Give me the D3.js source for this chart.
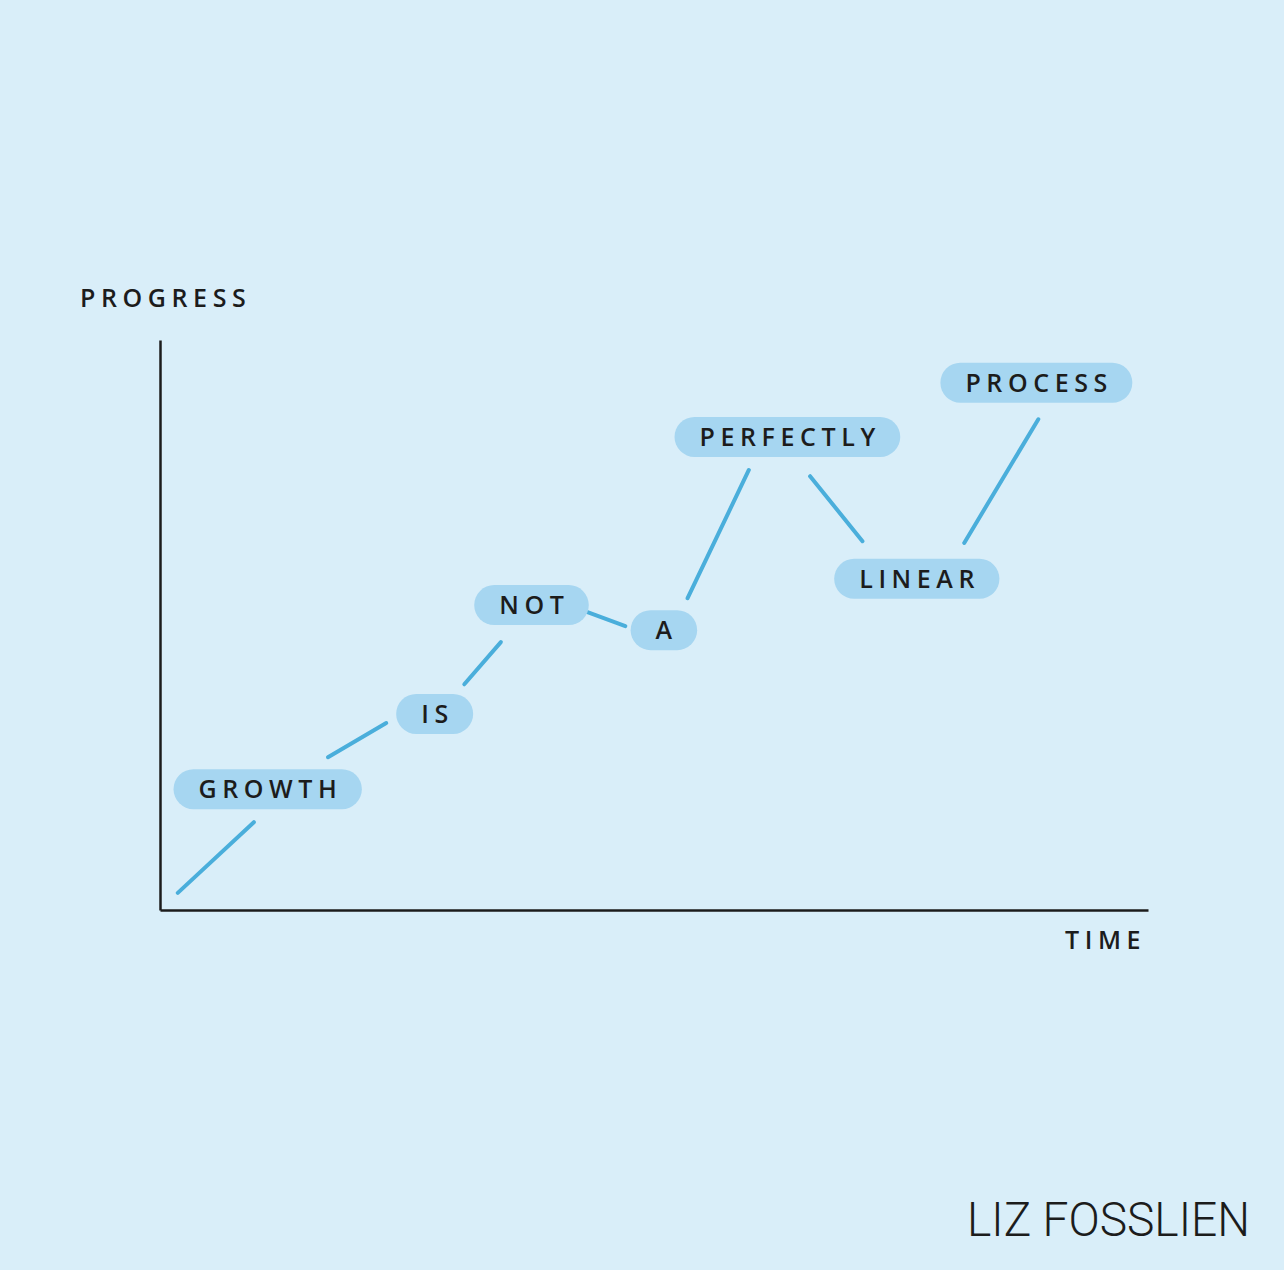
<!DOCTYPE html>
<html><head><meta charset="utf-8">
<script src="https://cdn.jsdelivr.net/npm/d3@7"></script>
<style>
html,body{margin:0;padding:0;background:#d9eef9;}
svg{display:block;}
</style></head>
<body>
<script>
// ---- data ----
const words = ["GROWTH","IS","NOT","A","PERFECTLY","LINEAR","PROCESS"];
const wordTime = [10.9, 27.8, 37.6, 51.0, 63.5, 76.6, 88.7];
const wordProgress = [21.2, 34.4, 53.5, 49.1, 83.0, 58.1, 92.5];
// connector segments: [t1, p1, t2, p2]
const segStartTime = [1.8, 17.0, 30.8, 43.2, 53.4, 65.8, 81.4];
const segStartProg = [3.0, 26.8, 39.6, 52.3, 54.7, 76.1, 64.4];
const segEndTime   = [9.5, 22.9, 34.5, 47.1, 59.6, 71.1, 88.9];
const segEndProg   = [15.4, 32.8, 47.0, 49.8, 77.2, 64.7, 86.1];
const yLabel = "PROGRESS";
const xLabel = "TIME";
const credit = "LIZ FOSSLIEN";

// ---- layout ----
const W = 1284, H = 1270;
const svg = d3.select("body").append("svg").attr("width", W).attr("height", H);
svg.append("rect").attr("width", W).attr("height", H).attr("fill", "#d9eef9");

const x = d3.scaleLinear().domain([0, 100]).range([160, 1148]);
const y = d3.scaleLinear().domain([0, 100]).range([910, 340]);

const font = "'Open Sans', 'DejaVu Sans', sans-serif";
const ink = "#1c1c1c";
const fs = 25, ls = 5.6, fw = 600;

// axes (no ticks)
const xAxis = d3.axisBottom(x).tickValues([]).tickSizeOuter(0);
const yAxis = d3.axisLeft(y).tickValues([]).tickSizeOuter(0);
svg.append("g").attr("transform", `translate(0,${y(0)})`).call(xAxis)
  .select(".domain").attr("stroke", ink).attr("stroke-width", 2.5);
svg.append("g").attr("transform", `translate(${x(0)},0)`).call(yAxis)
  .select(".domain").attr("stroke", ink).attr("stroke-width", 2.5);

// axis labels
function label(t, px, py) {
  svg.append("text").text(t).attr("x", px).attr("y", py)
    .attr("font-family", font).attr("font-size", fs).attr("letter-spacing", ls)
    .attr("font-weight", fw).attr("fill", ink);
}
label(yLabel, 80, 307);
label(xLabel, 1065, 949);

// connector lines
const segs = segStartTime.map((t, i) => ({x1: t, y1: segStartProg[i], x2: segEndTime[i], y2: segEndProg[i]}));
svg.append("g").selectAll("line").data(segs).join("line")
  .attr("x1", d => x(d.x1)).attr("y1", d => y(d.y1))
  .attr("x2", d => x(d.x2)).attr("y2", d => y(d.y2))
  .attr("stroke", "#4aaedb").attr("stroke-width", 4).attr("stroke-linecap", "round");

// word pills
const pills = words.map((w, i) => ({w, t: wordTime[i], p: wordProgress[i]}));
const g = svg.append("g").selectAll("g").data(pills).join("g")
  .attr("transform", d => `translate(${x(d.t)},${y(d.p)})`);
const rects = g.append("rect").attr("fill", "#a6d6f1");
const texts = g.append("text").text(d => d.w)
  .attr("text-anchor", "middle").attr("dy", "0.36em")
  .attr("font-family", font).attr("font-size", fs).attr("letter-spacing", ls)
  .attr("font-weight", fw).attr("fill", ink);
texts.each(function(d) { d.tw = this.getComputedTextLength() - ls; });
texts.attr("dx", ls / 2);
const ph = 40;
const pw = d => Math.max(d.tw + 50, 66);
rects.attr("x", d => -pw(d) / 2).attr("width", pw)
  .attr("y", -ph / 2).attr("height", ph).attr("rx", ph / 2).attr("ry", ph / 2);

// credit
svg.append("text").text(credit).attr("x", 967).attr("y", 1236)
  .attr("font-family", "Roboto, 'Open Sans', sans-serif")
  .attr("font-size", 48).attr("font-weight", 300)
  .attr("textLength", 283).attr("lengthAdjust", "spacingAndGlyphs")
  .attr("fill", ink);
</script>
</body></html>
